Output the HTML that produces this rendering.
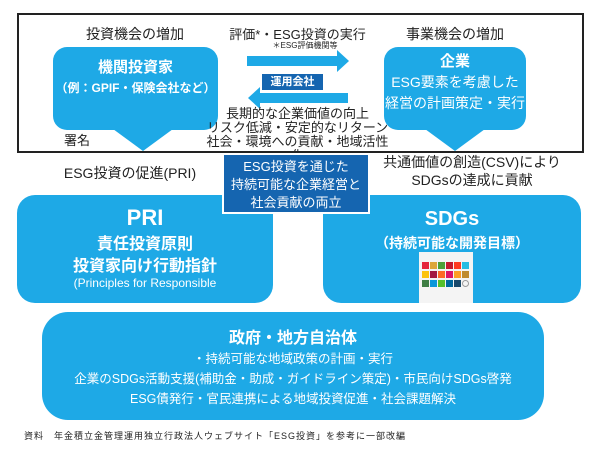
<!DOCTYPE html><html><head><meta charset="utf-8"><style>
body{margin:0;width:600px;height:449px;background:#fff;position:relative;overflow:hidden;font-family:"Liberation Sans","Noto Sans CJK JP",sans-serif;color:#222}
div{position:absolute;box-sizing:border-box}
.c{text-align:center}
.b{background:#1ea9e6;color:#fff}
</style></head><body>
<div style="left:17px;top:13px;width:567px;height:140px;border:2px solid #222"></div>
<div class="c" style="left:70px;top:24px;width:130px;font-size:14px">投資機会の増加</div>
<div class="c" style="left:215px;top:24px;width:165px;font-size:13px">評価*・ESG投資の実行</div>
<div class="c" style="left:250px;top:40px;width:110px;font-size:8px">＊ESG評価機関等</div>
<div class="c" style="left:385px;top:24px;width:140px;font-size:14px">事業機会の増加</div>
<div class="b c" style="left:53px;top:47px;width:165px;height:83px;border-radius:14px;padding-top:11px;font-weight:bold;font-size:15px;line-height:20px">機関投資家<br><span style="font-size:12px">（例：GPIF・保険会社など）</span></div>
<div style="left:113px;top:129px;width:0;height:0;border-left:30px solid transparent;border-right:30px solid transparent;border-top:22px solid #1ea9e6"></div>
<div style="left:64px;top:130px;font-size:13px">署名</div>
<div class="b" style="left:247px;top:56px;width:90px;height:10px"></div>
<div style="left:337px;top:50px;border-top:11px solid transparent;border-bottom:11px solid transparent;border-left:12px solid #1ea9e6"></div>
<div class="c" style="left:262px;top:74px;width:61px;height:16px;background:#1565b0;color:#fff;font-size:11px;line-height:16px;font-weight:bold">運用会社</div>
<div class="b" style="left:260px;top:93px;width:88px;height:10px"></div>
<div style="left:248px;top:87px;border-top:11px solid transparent;border-bottom:11px solid transparent;border-right:12px solid #1ea9e6"></div>
<div class="c" style="left:205px;top:107px;width:185px;font-size:13px;line-height:14px">長期的な企業価値の向上<br>リスク低減・安定的なリターン<br>社会・環境への貢献・地域活性化</div>
<div class="b c" style="left:384px;top:47px;width:142px;height:83px;border-radius:14px;padding-top:5px;font-weight:bold;font-size:15px;line-height:20px">企業<br><span style="font-size:14px;font-weight:normal">ESG要素を考慮した<br>経営の計画策定・実行</span></div>
<div style="left:425px;top:129px;border-left:30px solid transparent;border-right:30px solid transparent;border-top:22px solid #1ea9e6"></div>
<div class="c" style="left:40px;top:163px;width:180px;font-size:14px">ESG投資の促進(PRI)</div>
<div class="c" style="left:372px;top:153px;width:200px;font-size:14px;line-height:18px">共通価値の創造(CSV)により<br>SDGsの達成に貢献</div>
<div class="b" style="left:17px;top:195px;width:256px;height:108px;border-radius:18px"></div>
<div class="b" style="left:323px;top:195px;width:258px;height:108px;border-radius:18px"></div>
<div class="c" style="left:222px;top:153px;width:148px;height:61px;background:#1565b0;color:#fff;border:2px solid #fff;font-size:13px;line-height:18px;padding-top:3px">ESG投資を通じた<br>持続可能な企業経営と<br>社会貢献の両立</div>
<div class="c" style="left:17px;top:205px;width:256px;color:#fff;font-weight:bold;font-size:22px;line-height:26px">PRI</div>
<div class="c" style="left:17px;top:234px;width:256px;color:#fff;font-weight:bold;font-size:16px;line-height:22px">責任投資原則<br>投資家向け行動指針</div>
<div class="c" style="left:17px;top:276px;width:256px;color:#fff;font-size:12px">(Principles for Responsible</div>
<div class="c" style="left:323px;top:207px;width:258px;color:#fff;font-weight:bold;font-size:20px;line-height:24px">SDGs</div>
<div class="c" style="left:323px;top:233px;width:258px;color:#fff;font-weight:bold;font-size:14px">（持続可能な開発目標）</div>
<div style="left:419px;top:252px;width:54px;height:51px;background:#f4f4f4;padding:10px 3px 0 3px">
<svg width="48" height="40"><g>
<rect x="0" y="0" width="7" height="7" fill="#e5243b"/><rect x="8" y="0" width="7" height="7" fill="#dda63a"/><rect x="16" y="0" width="7" height="7" fill="#4c9f38"/><rect x="24" y="0" width="7" height="7" fill="#c5192d"/><rect x="32" y="0" width="7" height="7" fill="#ff3a21"/><rect x="40" y="0" width="7" height="7" fill="#26bde2"/>
<rect x="0" y="9" width="7" height="7" fill="#fcc30b"/><rect x="8" y="9" width="7" height="7" fill="#a21942"/><rect x="16" y="9" width="7" height="7" fill="#fd6925"/><rect x="24" y="9" width="7" height="7" fill="#dd1367"/><rect x="32" y="9" width="7" height="7" fill="#fd9d24"/><rect x="40" y="9" width="7" height="7" fill="#bf8b2e"/>
<rect x="0" y="18" width="7" height="7" fill="#3f7e44"/><rect x="8" y="18" width="7" height="7" fill="#0a97d9"/><rect x="16" y="18" width="7" height="7" fill="#56c02b"/><rect x="24" y="18" width="7" height="7" fill="#00689d"/><rect x="32" y="18" width="7" height="7" fill="#19486a"/><circle cx="43.5" cy="21.5" r="3" fill="none" stroke="#999"/>
</g></svg></div>
<div class="b c" style="left:42px;top:312px;width:502px;height:108px;border-radius:26px;font-size:12.5px;line-height:20px;padding-top:17px"><b style="font-size:16px">政府・地方自治体</b><br>・持続可能な地域政策の計画・実行<br>企業のSDGs活動支援(補助金・助成・ガイドライン策定)・市民向けSDGs啓発<br>ESG債発行・官民連携による地域投資促進・社会課題解決</div>
<div style="left:24px;top:429px;font-size:9px;letter-spacing:1px">資料　年金積立金管理運用独立行政法人ウェブサイト「ESG投資」を参考に一部改編</div>
</body></html>
